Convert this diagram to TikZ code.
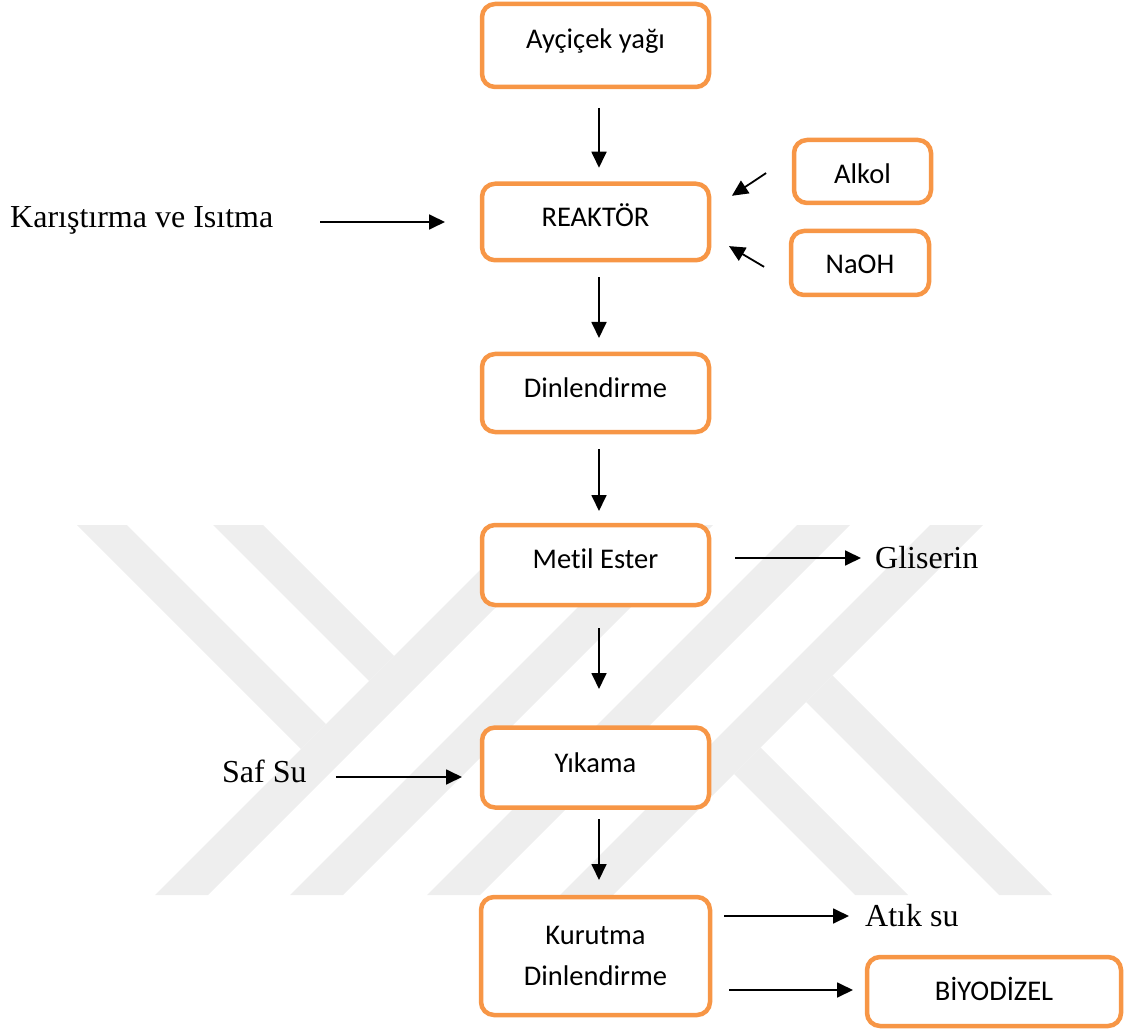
\documentclass[tikz,border=0pt]{standalone}
\usepackage{fontspec}
\setmainfont{Liberation Serif}
\newfontfamily\boxfont[Ligatures=NoCommon]{Carlito}
\usetikzlibrary{arrows.meta, calc}
\definecolor{boxorange}{RGB}{247,150,70}
\definecolor{yokgray}{RGB}{238,238,238}

\begin{document}
\begin{tikzpicture}[x=1pt, y=-1pt,
  box/.style={draw=boxorange, line width=4.5pt, rounded corners=13pt, fill=white,
    minimum width=227pt, inner sep=0pt, outer sep=0pt,
    font=\boxfont\fontsize{28.5}{41}\selectfont},
  lift/.style={text height=28pt, text depth=#1},
  word/.style={anchor=west, inner sep=0pt, text height=27.2pt, text depth=6pt,
    font=\fontsize{32}{38}\selectfont},
  flow/.style={line width=1.8pt, -{Triangle[length=16pt, width=15pt]}},
  stripe/.style={fill=yokgray}]
  \useasboundingbox (0,0) rectangle (1125,1032);

  \foreach \s in {1050,1185,1322,1455}
    \fill[stripe] (\s-525,525) -- (\s-472,525) -- (\s-842,895) -- (\s-895,895) -- cycle;
  \fill[stripe] (77,525) -- (127,525) -- (326,724) -- (301,749) -- cycle;
  \fill[stripe] (213,525) -- (263,525) -- (394,656) -- (369,681) -- cycle;
  \fill[stripe] (806,702) -- (832.5,675.5) -- (1052,895) -- (999,895) -- cycle;
  \fill[stripe] (734,774) -- (760.5,747.5) -- (908,895) -- (855,895) -- cycle;

  \node[box, lift=22pt, minimum height=83pt] (oil) at (595.5,45.5) {Ayçiçek yağı};
  \node[box, lift=19pt, minimum height=76.5pt] (reactor) at (595.5,222) {REAKTÖR};
  \node[box, lift=20pt, minimum height=78pt] (din) at (595.5,393) {Dinlendirme};
  \node[box, lift=22pt, minimum height=80pt] (metil) at (595.5,565) {Metil Ester};
  \node[box, lift=19pt, minimum height=80pt] (yika) at (595.5,767.5) {Yıkama};
  \node[box, align=center, minimum width=229pt, minimum height=118pt] (kuru) at (595.5,956) {Kurutma\\Dinlendirme};
  \node[box, lift=3pt, minimum width=137pt, minimum height=63pt] (alkol) at (862.5,171.5) {Alkol};
  \node[box, lift=6pt, minimum width=138pt, minimum height=64pt] (naoh) at (860,263) {NaOH};
  \node[box, lift=10pt, minimum width=254pt, minimum height=69pt] (biyo) at (994,991.5) {BİYODİZEL};

  \node[word] (karis) at (10,217) {Karıştırma ve Isıtma};
  \node[word] (glis) at (875,558) {Gliserin};
  \node[word] (safsu) at (222,772) {Saf Su};
  \node[word] (atik) at (865,916) {Atık su};

  \draw[flow, shorten <=21pt, shorten >=16pt] ([xshift=3.5pt]oil.south) -- ([xshift=3.5pt]reactor.north);
  \draw[flow, shorten <=17pt, shorten >=16pt] ([xshift=3.5pt]reactor.south) -- ([xshift=3.5pt]din.north);
  \draw[flow, shorten <=17pt, shorten >=14pt] ([xshift=3.5pt]din.south) -- ([xshift=3.5pt]metil.north);
  \draw[flow, shorten <=23pt, shorten >=38.5pt] ([xshift=3.5pt]metil.south) -- ([xshift=3.5pt]yika.north);
  \draw[flow, shorten <=11.5pt, shorten >=17pt] ([xshift=3.5pt]yika.south) -- ([xshift=3.5pt]kuru.north);

  \draw[flow, shorten <=47pt, shorten >=37pt] (karis.east |- reactor.west) -- (reactor.west);
  \draw[flow, shorten <=33.5pt, shorten >=27.5pt] ([yshift=17pt]alkol.west) -- ([yshift=11pt]reactor.east);
  \draw[flow, shorten <=31.3pt, shorten >=23.2pt] ([yshift=-19.75pt]naoh.west) -- ([yshift=-12.3pt]reactor.east);
  \draw[flow, shorten <=26pt, shorten >=14pt] (metil.east |- glis.west) -- (glis.west);
  \draw[flow, shorten <=29pt, shorten >=20pt] ($(safsu.east)+(0,5)$) -- ($(yika.west |- safsu.east)+(0,5)$);
  \draw[flow, shorten <=14pt, shorten >=16pt] (kuru.east |- atik.west) -- (atik.west);
  \draw[flow, shorten <=19pt, shorten >=14pt] ([yshift=1.5pt]kuru.east |- biyo.west) -- ([yshift=1.5pt]biyo.west);
\end{tikzpicture}
\end{document}
